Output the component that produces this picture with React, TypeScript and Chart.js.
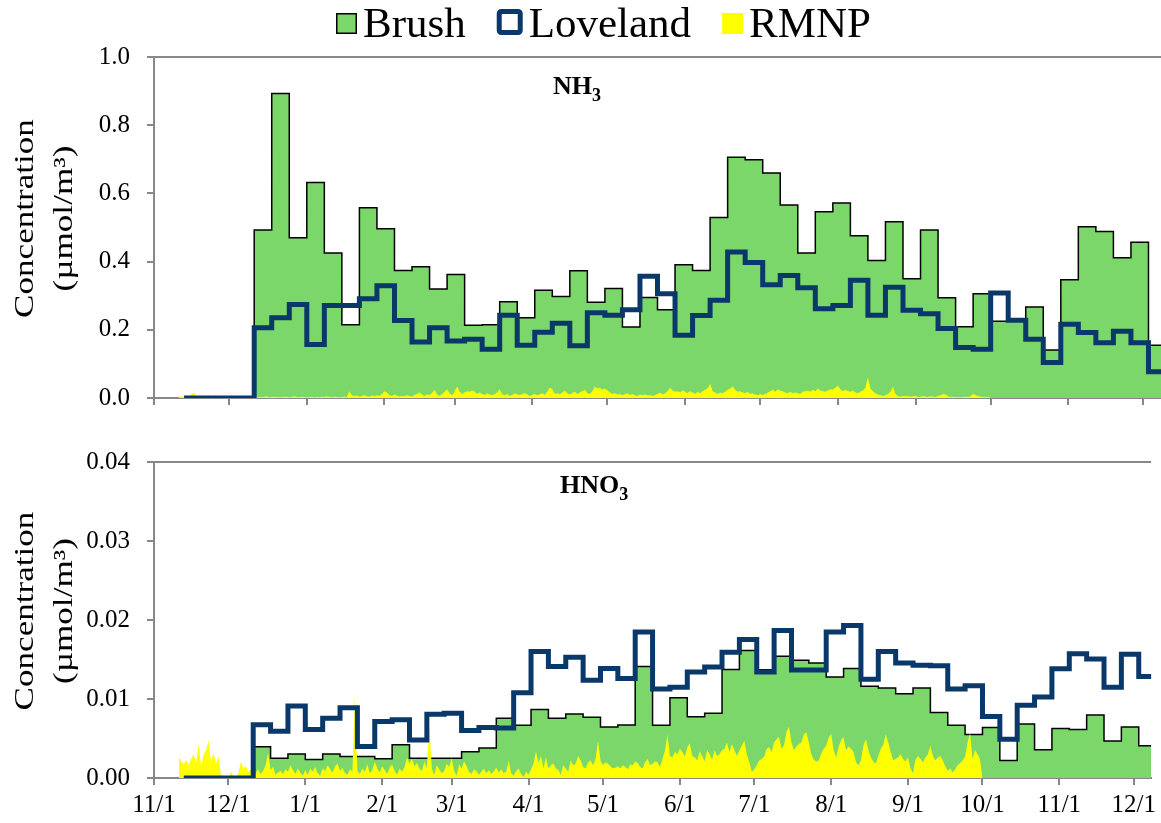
import { useEffect, useRef } from "react";
import { Chart, registerables } from "chart.js";

Chart.register(...registerables);

// Day offsets are counted from 11/1 of the first sampling year.
const MONTH_START_DAYS = [0, 30, 61, 92, 120, 151, 181, 212, 242, 273, 304, 334, 365, 395];
const MONTH_LABELS = ["11/1", "12/1", "1/1", "2/1", "3/1", "4/1", "5/1", "6/1", "7/1", "8/1", "9/1", "10/1", "11/1", "12/1"];
const X_MAX_DAY = 402;

// Brush and Loveland are weekly denuder samples; RMNP is a daily record.
const WEEKLY_FIRST_DAY = 12;
const WEEKLY_STEP = 7;
const DAILY_FIRST_DAY = 10;

// NH3, µmol/m³
const brushNH3 = [
  0, 0, 0, 0,
  0.493, 0.893, 0.470, 0.632, 0.425, 0.215, 0.558, 0.496, 0.374, 0.385,
  0.320, 0.362, 0.213, 0.215, 0.282, 0.235, 0.316, 0.298, 0.373, 0.281,
  0.321, 0.208, 0.295, 0.259, 0.391, 0.374, 0.529, 0.706, 0.699, 0.660,
  0.566, 0.425, 0.546, 0.572, 0.476, 0.403, 0.517, 0.350, 0.493, 0.294,
  0.209, 0.306, 0.225, 0.225, 0.267, 0.141, 0.347, 0.502, 0.488, 0.411,
  0.457, 0.155,
];
const lovelandNH3 = [
  0, 0, 0, 0,
  0.206, 0.235, 0.274, 0.157, 0.271, 0.271, 0.291, 0.329, 0.227, 0.164,
  0.206, 0.167, 0.172, 0.143, 0.243, 0.155, 0.193, 0.219, 0.153, 0.250,
  0.243, 0.259, 0.357, 0.306, 0.184, 0.242, 0.287, 0.428, 0.397, 0.332,
  0.359, 0.323, 0.262, 0.271, 0.345, 0.243, 0.325, 0.257, 0.247, 0.204,
  0.148, 0.143, 0.308, 0.228, 0.172, 0.104, 0.216, 0.192, 0.162, 0.196,
  0.162, 0.077,
];
const rmnpNH3 = [
  0.004, 0.006, 0.003, 0.008, 0.005, 0.012, 0.016, 0.006, 0.004, 0.007,
  0.003, 0.005, 0.009, 0.004, 0.002, 0.006, 0.003, 0.002, 0.004, 0.006,
  0.003, 0.002, 0.005, 0.003, 0.002, 0.004, 0.003, 0.002, 0.003, 0.003,
  0.002, 0.004, 0.003, 0.002, 0.003, 0.005, 0.002, 0.003, 0.004, 0.002,
  0.003, 0.002, 0.004, 0.003, 0.002, 0.003, 0.005, 0.003, 0.002, 0.004,
  0.003, 0.002, 0.003, 0.004, 0.002, 0.003, 0.002, 0.004, 0.003, 0.005,
  0.003, 0.002, 0.004, 0.003, 0.002, 0.003, 0.004, 0.003, 0.020, 0.008,
  0.005, 0.007, 0.004, 0.006, 0.009, 0.005, 0.004, 0.007, 0.005, 0.008,
  0.006, 0.012, 0.020, 0.016, 0.008, 0.006, 0.010, 0.007, 0.004, 0.006,
  0.005, 0.008, 0.006, 0.004, 0.009, 0.012, 0.016, 0.010, 0.006, 0.011,
  0.008, 0.015, 0.024, 0.010, 0.006, 0.012, 0.018, 0.026, 0.014, 0.008,
  0.020, 0.034, 0.018, 0.012, 0.016, 0.020, 0.018, 0.022, 0.018, 0.012,
  0.016, 0.012, 0.009, 0.014, 0.010, 0.008, 0.012, 0.016, 0.026, 0.010,
  0.008, 0.012, 0.006, 0.009, 0.014, 0.011, 0.008, 0.012, 0.015, 0.010,
  0.006, 0.009, 0.012, 0.008, 0.011, 0.014, 0.009, 0.018, 0.031, 0.026,
  0.012, 0.014, 0.011, 0.016, 0.021, 0.014, 0.010, 0.015, 0.018, 0.012,
  0.016, 0.020, 0.024, 0.014, 0.012, 0.020, 0.034, 0.028, 0.030, 0.024,
  0.028, 0.022, 0.016, 0.012, 0.014, 0.010, 0.012, 0.008, 0.011, 0.014,
  0.009, 0.012, 0.008, 0.006, 0.010, 0.008, 0.011, 0.007, 0.009, 0.006,
  0.008, 0.012, 0.016, 0.010, 0.014, 0.020, 0.030, 0.022, 0.018, 0.020,
  0.016, 0.022, 0.018, 0.014, 0.020, 0.016, 0.012, 0.018, 0.014, 0.020,
  0.024, 0.028, 0.042, 0.020, 0.016, 0.012, 0.016, 0.014, 0.018, 0.024,
  0.028, 0.034, 0.024, 0.018, 0.020, 0.016, 0.014, 0.018, 0.012, 0.014,
  0.010, 0.008, 0.012, 0.009, 0.012, 0.016, 0.020, 0.024, 0.018, 0.026,
  0.022, 0.020, 0.016, 0.014, 0.018, 0.014, 0.016, 0.014, 0.012, 0.018,
  0.020, 0.022, 0.018, 0.024, 0.020, 0.028, 0.022, 0.020, 0.018, 0.022,
  0.026, 0.024, 0.030, 0.036, 0.026, 0.020, 0.024, 0.020, 0.018, 0.022,
  0.016, 0.014, 0.018, 0.022, 0.030, 0.060, 0.028, 0.020, 0.014, 0.010,
  0.008, 0.006, 0.008, 0.012, 0.018, 0.034, 0.012, 0.006, 0.004, 0.006,
  0.005, 0.006, 0.004, 0.005, 0.006, 0.003, 0.004, 0.006, 0.004, 0.003,
  0.005, 0.004, 0.003, 0.006, 0.008, 0.012, 0.010, 0.005, 0.003, 0.004,
  0.002, 0.003, 0.002, 0.003, 0.004, 0.003, 0.005, 0.012, 0.008, 0.006,
  0.004, 0.003, 0.004, 0.003, 0,
];

// HNO3, µmol/m³
const brushHNO3 = [
  0, 0, 0, 0,
  0.00395, 0.00251, 0.00305, 0.00235, 0.00305, 0.00272, 0.00272, 0.00243, 0.0042, 0.00251,
  0.00251, 0.00251, 0.00333, 0.00379, 0.00757, 0.00667, 0.00868, 0.00757, 0.0081, 0.0077,
  0.00646, 0.0067, 0.0141, 0.00667, 0.01016, 0.00774, 0.00819, 0.01374, 0.01613, 0.0137,
  0.0154, 0.0149, 0.01457, 0.0128, 0.01387, 0.0116, 0.0114, 0.01066, 0.0114, 0.0083,
  0.00667, 0.0055, 0.0064, 0.00222, 0.00683, 0.00358, 0.00626, 0.00613, 0.00798, 0.00469,
  0.00646, 0.00407,
];
const lovelandHNO3 = [
  0, 0, 0, 0,
  0.00675, 0.00593, 0.0091, 0.00613, 0.00757, 0.0089, 0.0040, 0.00716, 0.00737, 0.00481,
  0.00807, 0.0082, 0.006, 0.0064, 0.00633, 0.0108, 0.0160, 0.0141, 0.01527, 0.01238,
  0.01387, 0.0126, 0.01848, 0.01127, 0.01148, 0.01342, 0.01404, 0.01593, 0.01753, 0.01342,
  0.01868, 0.01367, 0.01367, 0.01848, 0.0193, 0.0125, 0.0160, 0.01457, 0.01428, 0.0142,
  0.01127, 0.01169, 0.00778, 0.0049, 0.00922, 0.01025, 0.01383, 0.01572, 0.01506, 0.01148,
  0.01568, 0.01284,
];
const rmnpHNO3 = [
  0.0026, 0.0021, 0.0018, 0.0022, 0.0016, 0.0024, 0.0030, 0.0019, 0.0043, 0.0015,
  0.0029, 0.0035, 0.0047, 0.0020, 0.0032, 0.0018, 0.0027, 0.0004, 0.0002, 0.0001,
  0.0000, 0.0008, 0.0002, 0.0001, 0.0005, 0.0021, 0.0012, 0.0015, 0.0008, 0.0010,
  0.0003, 0.0006, 0.0011, 0.0005, 0.0009, 0.0016, 0.0032, 0.0010, 0.0014, 0.0004,
  0.0007, 0.0009, 0.0005, 0.0011, 0.0008, 0.0016, 0.0010, 0.0005, 0.0012, 0.0007,
  0.0003, 0.0010, 0.0004, 0.0012, 0.0008, 0.0014, 0.0006, 0.0003, 0.0012, 0.0009,
  0.0016, 0.0011, 0.0007, 0.0015, 0.0018, 0.0009, 0.0013, 0.0006, 0.0004, 0.0011,
  0.0008, 0.0105, 0.0009, 0.0005, 0.0012, 0.0008, 0.0017, 0.0006, 0.0010, 0.0021,
  0.0012, 0.0007, 0.0015, 0.0010, 0.0005, 0.0013, 0.0017, 0.0009, 0.0004, 0.0012,
  0.0008, 0.0014, 0.0026, 0.0018, 0.0024, 0.0015, 0.0019, 0.0012, 0.0009, 0.0021,
  0.0012, 0.0067, 0.0012, 0.0004, 0.0016, 0.0011, 0.0006, 0.0009, 0.0018, 0.0014,
  0.0025, 0.0009, 0.0003, 0.0017, 0.0012, 0.0021, 0.0015, 0.0008, 0.0005, 0.0011,
  0.0009, 0.0004, 0.0008, 0.0012, 0.0006, 0.0010, 0.0005, 0.0009, 0.0013, 0.0007,
  0.0011, 0.0006, 0.0008, 0.0022, 0.0006, 0.0003, 0.0009, 0.0012, 0.0005, 0.0001,
  0.0008, 0.0004, 0.0011, 0.0018, 0.0034, 0.0019, 0.0028, 0.0012, 0.0026, 0.0012,
  0.0016, 0.0018, 0.0012, 0.0010, 0.0004, 0.0016, 0.0012, 0.0008, 0.0022, 0.0016,
  0.0018, 0.0028, 0.0022, 0.0014, 0.0012, 0.0020, 0.0022, 0.0016, 0.0024, 0.0047,
  0.0022, 0.0016, 0.0020, 0.0018, 0.0015, 0.0012, 0.0013, 0.0015, 0.0012, 0.0016,
  0.0014, 0.0011, 0.0017, 0.0016, 0.0021, 0.0019, 0.0014, 0.0012, 0.0020, 0.0024,
  0.0016, 0.0018, 0.0021, 0.0020, 0.0014, 0.0024, 0.0035, 0.0055, 0.0028, 0.0026,
  0.0033, 0.0030, 0.0037, 0.0033, 0.0027, 0.0039, 0.0044, 0.0028, 0.0026, 0.0022,
  0.0034, 0.0028, 0.0021, 0.0035, 0.0030, 0.0023, 0.0035, 0.0028, 0.0030, 0.0035,
  0.0037, 0.0045, 0.0033, 0.0043, 0.0035, 0.0028, 0.0035, 0.0041, 0.0047, 0.0030,
  0.0020, 0.0008, 0.0011, 0.0016, 0.0022, 0.0024, 0.0027, 0.0037, 0.0039, 0.0033,
  0.0045, 0.0049, 0.0052, 0.0037, 0.0041, 0.0059, 0.0065, 0.0045, 0.0035, 0.0040,
  0.0043, 0.0045, 0.0055, 0.0058, 0.0045, 0.0030, 0.0023, 0.0021, 0.0022, 0.0031,
  0.0037, 0.0041, 0.0051, 0.0056, 0.0035, 0.0026, 0.0039, 0.0048, 0.0052, 0.0035,
  0.0040, 0.0037, 0.0033, 0.0020, 0.0016, 0.0022, 0.0041, 0.0049, 0.0035, 0.0026,
  0.0021, 0.0018, 0.0028, 0.0037, 0.0042, 0.0055, 0.0045, 0.0033, 0.0022, 0.0024,
  0.0026, 0.0030, 0.0024, 0.0021, 0.0026, 0.0012, 0.0006, 0.0023, 0.0028, 0.0024,
  0.0020, 0.0026, 0.0030, 0.0041, 0.0028, 0.0022, 0.0026, 0.0028, 0.0022, 0.0015,
  0.0009, 0.0012, 0.0007, 0.0011, 0.0016, 0.0019, 0.0022, 0.0027, 0.0045, 0.0057,
  0.0024, 0.0035, 0.0030, 0.0024, 0,
];

const GREEN = "#7bd76a";
const NAVY = "#0a386a";
const YELLOW = "#ffff00";
const AXIS_GRAY = "#888888";
const FONT = "'Liberation Serif', 'Times New Roman', serif";

type Pt = { x: number; y: number };

// Weekly values hold until the next sample starts, so the last one gets a closing point.
function weeklyPoints(values: number[]): Pt[] {
  const pts = values.map((y, i) => ({ x: WEEKLY_FIRST_DAY + WEEKLY_STEP * i, y }));
  pts.push({ x: WEEKLY_FIRST_DAY + WEEKLY_STEP * values.length, y: values[values.length - 1] });
  return pts;
}

function dailyPoints(values: number[]): Pt[] {
  return values.map((y, i) => ({ x: DAILY_FIRST_DAY + i, y }));
}

function siteDatasets(brush: number[], loveland: number[], rmnp: number[]) {
  return [
    {
      label: "Brush",
      data: weeklyPoints(brush),
      stepped: "before" as const,
      fill: "origin",
      backgroundColor: GREEN,
      borderColor: "#000000",
      borderWidth: 1.5,
      pointRadius: 0,
      order: 2,
    },
    {
      label: "Loveland",
      data: weeklyPoints(loveland),
      stepped: "before" as const,
      fill: false,
      backgroundColor: "#ffffff",
      borderColor: NAVY,
      borderWidth: 5,
      borderJoinStyle: "miter" as const,
      borderCapStyle: "butt" as const,
      pointRadius: 0,
      order: 0,
    },
    {
      label: "RMNP",
      data: dailyPoints(rmnp),
      fill: "origin",
      backgroundColor: YELLOW,
      borderColor: "rgba(0,0,0,0)",
      borderWidth: 0,
      pointRadius: 0,
      tension: 0,
      order: 1,
    },
  ];
}

// Rotated two-line axis title, drawn slightly condensed across the line.
function yTitlePlugin(lines: string[]) {
  return {
    id: "yTitle",
    afterDraw(chart: any) {
      const { ctx, chartArea } = chart;
      const cy = (chartArea.top + chartArea.bottom) / 2 - 9;
      const baselines = [33, 72];
      ctx.save();
      ctx.fillStyle = "#000";
      ctx.font = `27px ${FONT}`;
      ctx.textAlign = "center";
      ctx.textBaseline = "alphabetic";
      lines.forEach((line, i) => {
        ctx.save();
        ctx.translate(baselines[i], cy);
        ctx.rotate(-Math.PI / 2);
        ctx.scale(1.3, 1);
        ctx.fillText(line, 0, 0);
        ctx.restore();
      });
      ctx.restore();
    },
  };
}

// Chemical formula with a subscript digit.
function formulaPlugin(base: string, sub: string, x: number, y: number) {
  return {
    id: "formula",
    afterDraw(chart: any) {
      const ctx = chart.ctx;
      ctx.save();
      ctx.fillStyle = "#000";
      ctx.textAlign = "left";
      ctx.textBaseline = "alphabetic";
      ctx.font = `bold 26px ${FONT}`;
      ctx.fillText(base, x, y);
      const w = ctx.measureText(base).width;
      ctx.font = `bold 18px ${FONT}`;
      ctx.fillText(sub, x + w, y + 7);
      ctx.restore();
    },
  };
}

const siteLegendPlugin = {
  id: "siteLegend",
  afterDraw(chart: any) {
    const ctx = chart.ctx;
    const baseY = 37;
    let x = 336;
    ctx.save();
    ctx.font = `43px ${FONT}`;
    ctx.textAlign = "left";
    ctx.textBaseline = "alphabetic";
    chart.data.datasets.forEach((ds: any) => {
      let boxW = 21;
      if (ds.fill === false) {
        boxW = 26;
        ctx.fillStyle = ds.backgroundColor;
        ctx.strokeStyle = ds.borderColor;
        ctx.lineWidth = 5;
        ctx.beginPath();
        ctx.roundRect(x + 2.5, 11.5, boxW - 5, boxW - 5, 2);
        ctx.fill();
        ctx.stroke();
      } else {
        ctx.fillStyle = ds.backgroundColor;
        ctx.fillRect(x, 13, boxW, boxW);
        if (ds.borderWidth > 0) {
          ctx.strokeStyle = ds.borderColor;
          ctx.lineWidth = 1.5;
          ctx.strokeRect(x + 0.75, 13.75, boxW - 1.5, boxW - 1.5);
        }
      }
      const tx = x + boxW + 6;
      ctx.fillStyle = "#000";
      ctx.fillText(ds.label, tx, baseY);
      x = tx + ctx.measureText(ds.label).width + 31;
    });
    ctx.restore();
  },
};

function panelOptions(p: {
  yMax: number;
  yStep: number;
  digits: number;
  showXLabels: boolean;
  padTop: number;
  padBottom: number;
  xHeight: number;
}) {
  const tickFont = { family: FONT, size: 25 };
  return {
    animation: false,
    responsive: false,
    maintainAspectRatio: false,
    devicePixelRatio: 1,
    events: [],
    layout: { autoPadding: false, padding: { left: 0, right: 0, top: p.padTop, bottom: p.padBottom } },
    plugins: { legend: { display: false }, tooltip: { enabled: false }, title: { display: false } },
    scales: {
      x: {
        type: "linear",
        min: 0,
        max: X_MAX_DAY,
        afterBuildTicks: (s: any) => {
          s.ticks = MONTH_START_DAYS.map((v) => ({ value: v }));
        },
        afterFit: (s: any) => {
          s.height = p.xHeight;
        },
        ticks: {
          display: p.showXLabels,
          autoSkip: false,
          maxRotation: 0,
          minRotation: 0,
          padding: 5,
          color: "#000",
          font: tickFont,
          callback: (_v: any, i: number) => MONTH_LABELS[i] ?? "",
        },
        grid: { drawOnChartArea: false, drawTicks: true, tickLength: 7, color: AXIS_GRAY, lineWidth: 2 },
        border: { display: true, color: AXIS_GRAY, width: 2 },
      },
      y: {
        type: "linear",
        min: 0,
        max: p.yMax,
        afterFit: (s: any) => {
          s.width = 154;
        },
        ticks: {
          stepSize: p.yStep,
          padding: 17,
          color: "#000",
          font: tickFont,
          callback: (v: any) => Number(v).toFixed(p.digits),
        },
        grid: {
          drawOnChartArea: true,
          drawTicks: true,
          tickLength: 7,
          lineWidth: 2,
          tickColor: AXIS_GRAY,
          color: (c: any) =>
            c.tick && Math.abs(c.tick.value - p.yMax) < p.yMax * 1e-6 ? AXIS_GRAY : "rgba(0,0,0,0)",
        },
        border: { display: true, color: AXIS_GRAY, width: 2 },
      },
    },
  };
}

const Y_TITLE = ["Concentration", "(µmol/m³)"];

export default function App() {
  const topRef = useRef<HTMLCanvasElement>(null);
  const bottomRef = useRef<HTMLCanvasElement>(null);

  useEffect(() => {
    const nh3 = new Chart(topRef.current as HTMLCanvasElement, {
      type: "line",
      data: { datasets: siteDatasets(brushNH3, lovelandNH3, rmnpNH3) as any },
      options: panelOptions({
        yMax: 1.0,
        yStep: 0.2,
        digits: 1,
        showXLabels: false,
        padTop: 57,
        padBottom: 24,
        xHeight: 7,
      }) as any,
      plugins: [siteLegendPlugin, yTitlePlugin(Y_TITLE), formulaPlugin("NH", "3", 553, 94)],
    });
    const hno3 = new Chart(bottomRef.current as HTMLCanvasElement, {
      type: "line",
      data: { datasets: siteDatasets(brushHNO3, lovelandHNO3, rmnpHNO3) as any },
      options: panelOptions({
        yMax: 0.04,
        yStep: 0.01,
        digits: 2,
        showXLabels: true,
        padTop: 24,
        padBottom: 0,
        xHeight: 45,
      }) as any,
      plugins: [yTitlePlugin(Y_TITLE), formulaPlugin("HNO", "3", 560, 63)],
    });
    return () => {
      nh3.destroy();
      hno3.destroy();
    };
  }, []);

  return (
    <div style={{ position: "absolute", left: 0, top: 0, width: 1161, height: 823, background: "#ffffff" }}>
      <canvas ref={topRef} width={1161} height={430} style={{ position: "absolute", left: 0, top: 0 }} />
      <canvas ref={bottomRef} width={1161} height={393} style={{ position: "absolute", left: 0, top: 430 }} />
    </div>
  );
}
